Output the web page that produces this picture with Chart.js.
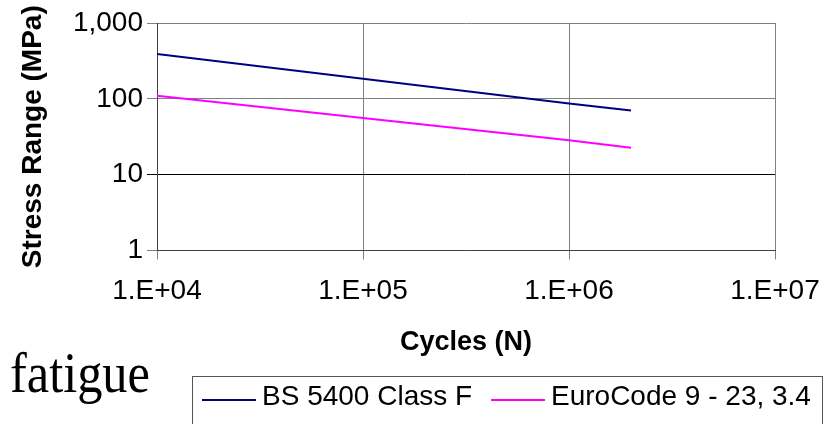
<!DOCTYPE html>
<html>
<head>
<meta charset="utf-8">
<script src="https://cdn.jsdelivr.net/npm/chart.js@4"></script>
<style>
  html, body { margin: 0; padding: 0; background: #fff; }
  #wrap { position: relative; width: 834px; height: 424px; overflow: hidden; }
  #chart { position: absolute; left: 0; top: 0; }
  #caption { position: absolute; left: 10px; top: 345px; font-family: "Liberation Serif", "Times New Roman", serif; font-size: 56px; line-height: 1; color: #000; transform: scaleX(0.9); transform-origin: left top; }
  #legend { position: absolute; left: 192px; top: 376px; width: 631px; height: 70px; border: 1px solid #555; box-sizing: border-box; font-family: "Liberation Sans", Arial, sans-serif; font-size: 28px; color: #000; }
  .item { position: absolute; top: 3px; white-space: nowrap; }
  .item span.swatch { display: inline-block; width: 54px; height: 0; border-top: 2px solid; vertical-align: middle; margin-right: 6px; position: relative; top: 2px; }
</style>
</head>
<body>
<div id="wrap">
  <canvas id="chart" width="834" height="424"></canvas>
  <div id="caption">fatigue</div>
  <div id="legend"></div>
</div>
<script>
// cycles (N) and stress range (MPa)
const cycles = [1e4, 1e5, 1e6, 2e6];
const bs5400 = [390, 184, 87, 70];
const euroCode = [110, 56, 28.4, 22.6];
const seriesNames = ['BS 5400 Class F', 'EuroCode 9 - 23, 3.4'];
const seriesColors = ['#000080', '#FF00FF'];
const xTicks = [1e4, 1e5, 1e6, 1e7];
const yTicks = [1, 10, 100, 1000];

const font = 'Liberation Sans, Arial, sans-serif';

function toPoints(ys) {
    return cycles.map((c, i) => ({ x: c, y: ys[i] }));
}

new Chart(document.getElementById('chart'), {
    type: 'line',
    data: {
        datasets: [
            { label: seriesNames[0], data: toPoints(bs5400), borderColor: seriesColors[0], borderWidth: 2, pointRadius: 0, fill: false },
            { label: seriesNames[1], data: toPoints(euroCode), borderColor: seriesColors[1], borderWidth: 2, pointRadius: 0, fill: false }
        ]
    },
    options: {
        responsive: false,
        animation: false,
        layout: { padding: { top: 23, right: 59, left: 0, bottom: 0 } },
        plugins: { legend: { display: false }, tooltip: { enabled: false } },
        scales: {
            x: {
                type: 'logarithmic',
                min: 1e4,
                max: 1e7,
                afterBuildTicks: s => { s.ticks = xTicks.map(v => ({ value: v })); },
                afterFit: s => {
                    s.height = 173.5;
                    s.paddingLeft = 0;
                    s.paddingRight = 0;
                },
                ticks: {
                    color: '#000',
                    font: { family: font, size: 28 },
                    padding: 15,
                    maxRotation: 0,
                    autoSkip: false,
                    callback: v => '1.E+' + String(Math.round(Math.log10(v))).padStart(2, '0')
                },
                grid: { color: '#808080', lineWidth: 1, tickLength: 9 },
                border: { color: '#404040', width: 1 },
                title: {
                    display: true,
                    text: 'Cycles (N)',
                    color: '#000',
                    font: { family: font, size: 27, weight: 'bold' },
                    padding: { top: 0, bottom: 65 }
                }
            },
            y: {
                type: 'logarithmic',
                min: 1,
                max: 1000,
                afterBuildTicks: s => { s.ticks = yTicks.map(v => ({ value: v })); },
                afterFit: s => { s.width = 157; },
                ticks: {
                    color: '#000',
                    font: { family: font, size: 28 },
                    padding: 4,
                    autoSkip: false,
                    callback: v => Number(v).toLocaleString('en-US')
                },
                grid: {
                    color: ctx => (ctx.tick && ctx.tick.value === 10) ? '#000' : '#808080',
                    lineWidth: 1,
                    tickLength: 10
                },
                border: { color: '#404040', width: 1 },
                title: {
                    display: true,
                    text: 'Stress Range (MPa)',
                    color: '#000',
                    font: { family: font, size: 28, weight: 'bold' },
                    padding: { top: 16, bottom: 0 }
                }
            }
        }
    }
});

// legend built from the series names
const legend = document.getElementById('legend');
const itemLeft = [9, 298];
seriesNames.forEach((name, i) => {
    const item = document.createElement('div');
    item.className = 'item';
    item.style.left = itemLeft[i] + 'px';
    item.innerHTML = `<span class="swatch" style="border-color:${seriesColors[i]}"></span>${name}`;
    legend.appendChild(item);
});
</script>
</body>
</html>
